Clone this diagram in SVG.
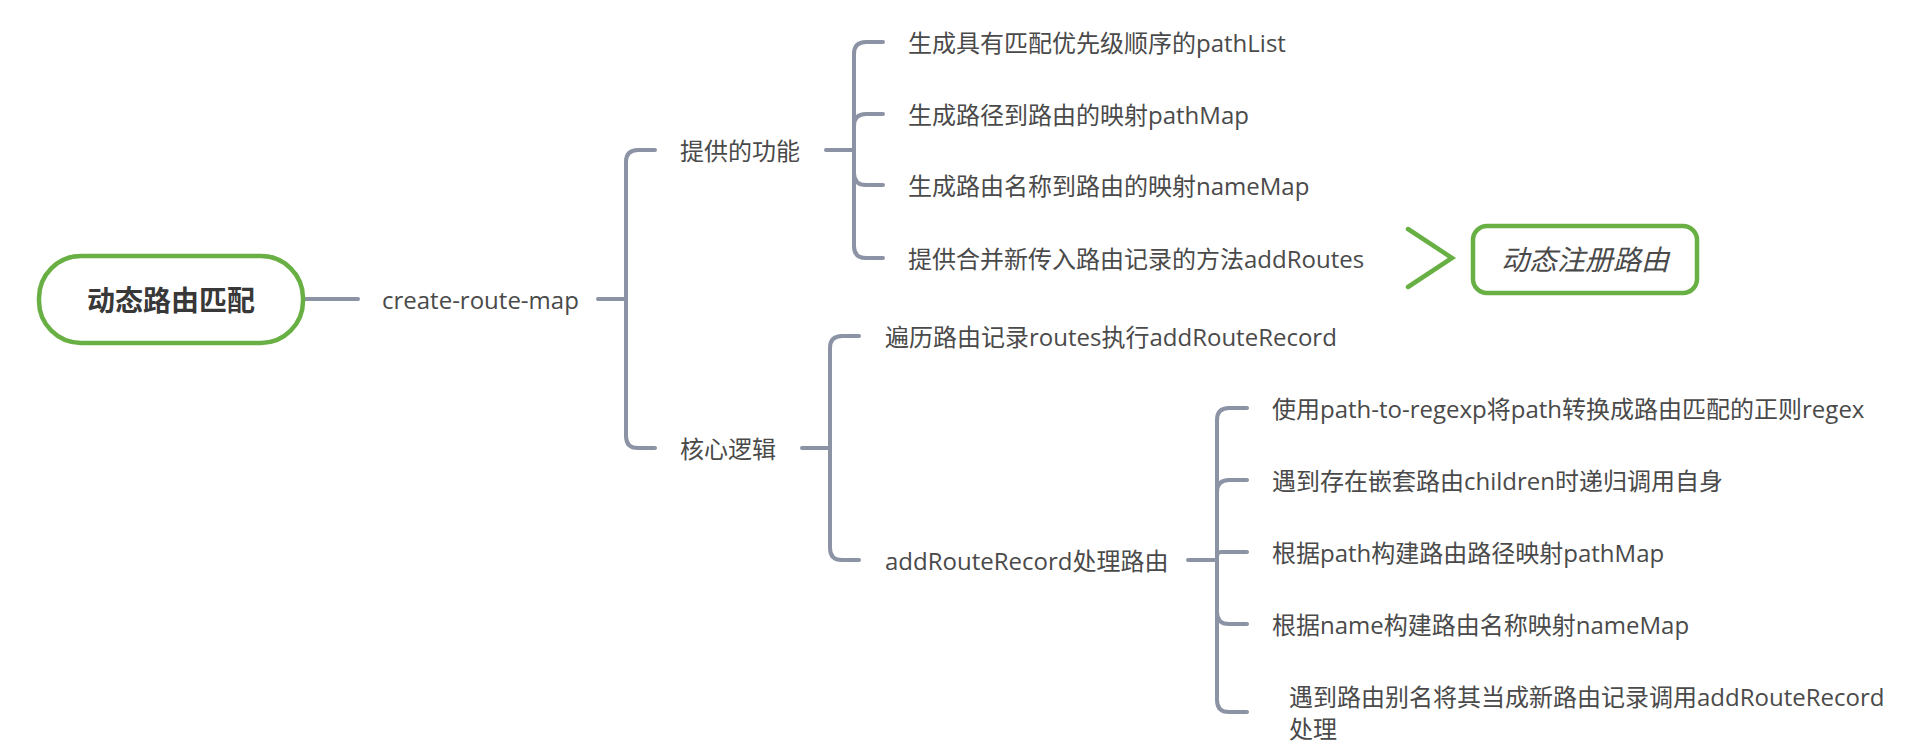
<svg xmlns="http://www.w3.org/2000/svg" width="1920" height="752" viewBox="0 0 1920 752">
<style>
.t{font-family:"Open Sans","Noto Sans CJK SC",sans-serif;font-size:24px;fill:#4a4a4a;dominant-baseline:central}
.root{font-family:"Open Sans","Noto Sans CJK SC",sans-serif;font-size:28px;font-weight:bold;fill:#383838;dominant-baseline:central;text-anchor:middle}
.it{font-family:"Open Sans","Noto Sans CJK SC",sans-serif;font-size:28px;font-style:italic;fill:#4a4a4a;dominant-baseline:central;text-anchor:middle}
.c{fill:none;stroke:#8b93a5;stroke-width:4;stroke-linecap:round;stroke-linejoin:round}
.g{fill:#ffffff;stroke:#68b044;stroke-width:4.5}
.chev{fill:none;stroke:#68b044;stroke-width:4.5;stroke-linecap:round;stroke-linejoin:miter}
</style>
<rect width="1920" height="752" fill="#ffffff"/>
<g id="connectors">
<path class="c" d="M303,299 H358"/>
<path class="c" d="M598,299 H626"/>
<path class="c" d="M626,299 V162 Q626,150 638,150 H655"/>
<path class="c" d="M626,299 V436 Q626,448 638,448 H655"/>
<path class="c" d="M826,150 H854"/>
<path class="c" d="M854,150 V54 Q854,42 866,42 H883"/>
<path class="c" d="M854,150 V126 Q854,114 866,114 H883"/>
<path class="c" d="M854,150 V173 Q854,185 866,185 H883"/>
<path class="c" d="M854,150 V246 Q854,258 866,258 H883"/>
<path class="c" d="M802,448 H830"/>
<path class="c" d="M830,448 V348 Q830,336 842,336 H859"/>
<path class="c" d="M830,448 V548 Q830,560 842,560 H859"/>
<path class="c" d="M1188,560 H1217"/>
<path class="c" d="M1217,560 V420 Q1217,408 1229,408 H1247"/>
<path class="c" d="M1217,560 V492 Q1217,480 1229,480 H1247"/>
<path class="c" d="M1217,560 V556 Q1217,552 1221,552 H1247"/>
<path class="c" d="M1217,560 V612 Q1217,624 1229,624 H1247"/>
<path class="c" d="M1217,560 V700 Q1217,712 1229,712 H1247"/>
<path class="chev" d="M1408,229 L1452,258 L1408,287"/>
</g>
<g id="root">
<rect class="g" x="39" y="256" width="264" height="87" rx="42"/>
<text class="root" x="171" y="300">动态路由匹配</text>
</g>
<g id="create-route-map"><text class="t" x="382" y="299">create-route-map</text></g>
<g id="features"><text class="t" x="680" y="150">提供的功能</text></g>
<g id="f1"><text class="t" x="908" y="42">生成具有匹配优先级顺序的pathList</text></g>
<g id="f2"><text class="t" x="908" y="114">生成路径到路由的映射pathMap</text></g>
<g id="f3"><text class="t" x="908" y="185">生成路由名称到路由的映射nameMap</text></g>
<g id="f4"><text class="t" x="908" y="258">提供合并新传入路由记录的方法addRoutes</text></g>
<g id="dynamic">
<rect class="g" x="1473" y="226" width="224" height="67" rx="14"/>
<text class="it" x="1585" y="259">动态注册路由</text>
</g>
<g id="core"><text class="t" x="680" y="448">核心逻辑</text></g>
<g id="c1"><text class="t" x="885" y="336">遍历路由记录routes执行addRouteRecord</text></g>
<g id="c2"><text class="t" x="885" y="560">addRouteRecord处理路由</text></g>
<g id="a1"><text class="t" x="1272" y="408">使用path-to-regexp将path转换成路由匹配的正则regex</text></g>
<g id="a2"><text class="t" x="1272" y="480">遇到存在嵌套路由children时递归调用自身</text></g>
<g id="a3"><text class="t" x="1272" y="552">根据path构建路由路径映射pathMap</text></g>
<g id="a4"><text class="t" x="1272" y="624">根据name构建路由名称映射nameMap</text></g>
<g id="a5"><text class="t" x="1289" y="696">遇到路由别名将其当成新路由记录调用addRouteRecord</text><text class="t" x="1289" y="728">处理</text></g>
</svg>
